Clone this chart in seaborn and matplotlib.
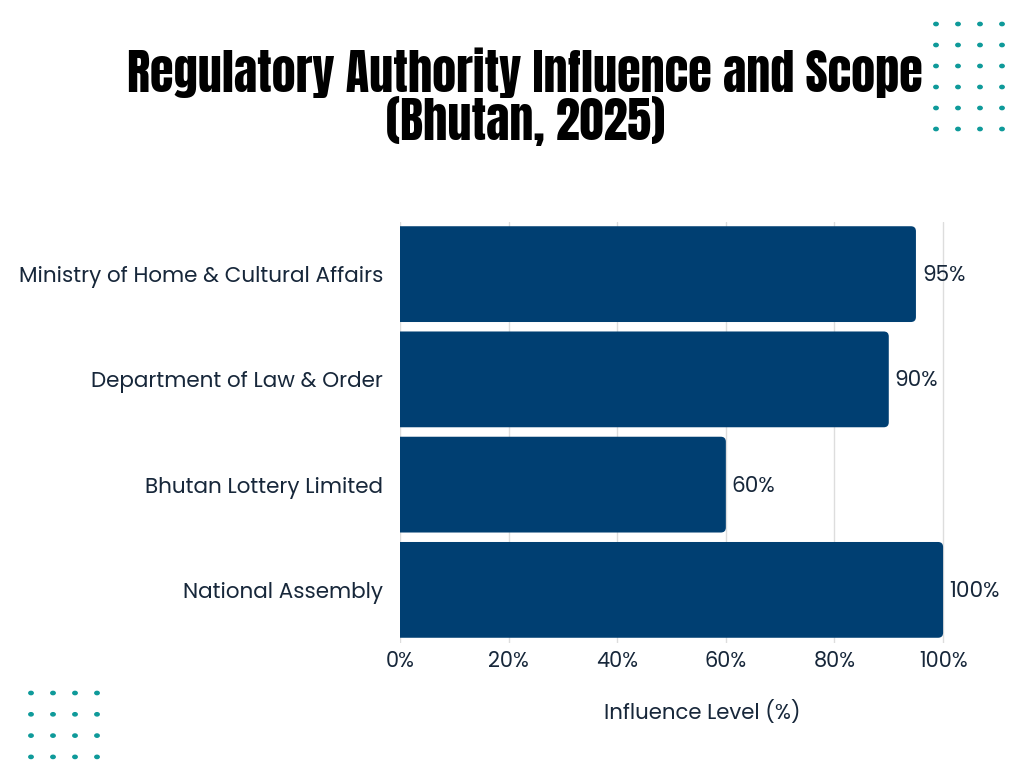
import matplotlib
matplotlib.use("Agg")
import matplotlib.pyplot as plt
import seaborn as sns
import pandas as pd
from matplotlib.patches import FancyBboxPatch

categories = ["Ministry of Home & Cultural Affairs", "Department of Law & Order",
              "Bhutan Lottery Limited", "National Assembly"]
values = [95, 90, 60, 100]
x_ticks = [0, 20, 40, 60, 80, 100]
x_tick_labels = ["0%", "20%", "40%", "60%", "80%", "100%"]

sns.set_theme(style="white")
plt.rcParams['font.family'] = ['Poppins', 'DejaVu Sans']

df = pd.DataFrame({"Category": categories, "Value": values})

fig = plt.figure(figsize=(10.24, 7.68), dpi=100)
ax = fig.add_axes([400/1024, 1-642.5/768, 605/1024, 421/768])

sns.barplot(data=df, y="Category", x="Value", color="#003f72", width=0.91,
            saturation=1, ax=ax, zorder=3)

ax.set_xlim(0, 111.4)
ax.set_ylim(3.5, -0.5)

# rounded bar ends
xr = 111.4 / 605.0
yr = 4.0 / 421.0
for p in list(ax.patches):
    x0, y0, w, h = p.get_x(), p.get_y(), p.get_width(), p.get_height()
    fc = p.get_facecolor()
    p.remove()
    rs = 5 * xr
    fb = FancyBboxPatch((x0 - rs, y0), w + rs, h,
                        boxstyle=f"round,pad=0,rounding_size={rs}",
                        mutation_aspect=yr / xr, facecolor=fc, edgecolor="none", zorder=3)
    ax.add_patch(fb)

ax.set_xticks(x_ticks)
ax.set_xticklabels(x_tick_labels)
ax.xaxis.grid(True, color="#dddddd", linewidth=1, zorder=0)
ax.set_axisbelow(True)
for s in ax.spines.values():
    s.set_visible(False)

text_color = "#17273a"
ax.tick_params(axis="x", labelsize=15, colors=text_color, length=0, pad=6)
ax.tick_params(axis="y", labelsize=15.5, colors=text_color, length=0, pad=12)
ax.set_ylabel("")
ax.set_xlabel("Influence Level (%)", fontsize=15.3, color=text_color, labelpad=20)

for i, v in enumerate(values):
    ax.text(v + 1.1, i + 0.02, f"{v}%", va="center", ha="left", fontsize=15.5,
            color=text_color, clip_on=False)

fig.text(0.513, 0.905, "Regulatory Authority Influence and Scope", ha="center", va="center",
         fontsize=34.7, family=["Anton", "DejaVu Sans"], color="black")
fig.text(0.513, 0.843, "(Bhutan, 2025)", ha="center", va="center",
         fontsize=34.7, family=["Anton", "DejaVu Sans"], color="black")

dot_color = "#0e9a9a"
for r in range(6):
    for c in range(4):
        fig.patches.append(plt.Circle(((936 + 22*c)/1024, 1-(24 + 21*r)/768), 2.2/1024,
                                      transform=fig.transFigure, color=dot_color))
for r in range(4):
    for c in range(4):
        fig.patches.append(plt.Circle(((31 + 22*c)/1024, 1-(693 + 21.3*r)/768), 2.2/1024,
                                      transform=fig.transFigure, color=dot_color))

fig.savefig("out.png", dpi=100)
